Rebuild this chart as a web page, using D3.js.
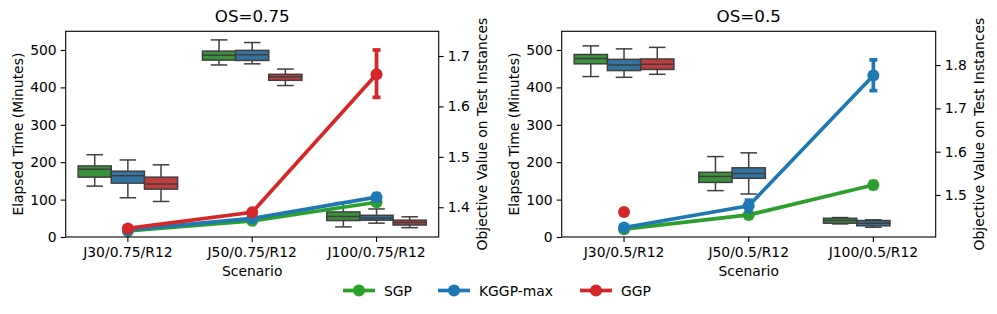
<!DOCTYPE html>
<html>
<head>
<meta charset="utf-8">
<script src="https://cdn.jsdelivr.net/npm/d3@7"></script>
<style>
  body { margin: 0; background: #fff; }
  svg { font-family: "DejaVu Sans", sans-serif; }
</style>
</head>
<body>
<svg width="997" height="314"></svg>
<script>
let svg = d3.select("svg");

let methods = ["SGP", "KGGP-max", "GGP"];
let lineColors = ["#2ca02c", "#1f77b4", "#d62728"];
let boxColors = ["#3a923a", "#3274a1", "#c03d3e"];

let scenariosA = ["J30/0.75/R12", "J50/0.75/R12", "J100/0.75/R12"];
let scenariosB = ["J30/0.5/R12", "J50/0.5/R12", "J100/0.5/R12"];

// elapsed time boxes: [scenario, method, whisker low, q1, median, q3, whisker high]
let timeA = [
    [0, 0, 136, 160, 181, 190, 220],
    [0, 1, 105, 144, 164, 176, 206],
    [0, 2, 95, 128, 142, 160, 193],
    [1, 0, 460, 473, 486, 497, 527],
    [1, 1, 463, 472, 487, 499, 520],
    [1, 2, 405, 419, 428, 435, 449],
    [2, 0, 27, 44, 55, 67, 92],
    [2, 1, 37, 45, 51, 58, 75],
    [2, 2, 25, 32, 39, 45, 54]
];
let timeB = [
    [0, 0, 429, 463, 477, 488, 511],
    [0, 1, 427, 445, 460, 475, 503],
    [0, 2, 435, 448, 462, 476, 507],
    [1, 0, 124, 146, 162, 173, 215],
    [1, 1, 115, 157, 170, 185, 225],
    [2, 0, 35, 37, 44, 50, 52],
    [2, 1, 26, 30, 37, 44, 46]
];

// objective value: [scenario, method, mean, ci low, ci high]
let objA = [
    [0, 0, 1.353, 1.350, 1.356],
    [1, 0, 1.373, 1.370, 1.376],
    [2, 0, 1.410, 1.404, 1.416],
    [0, 1, 1.355, 1.352, 1.358],
    [1, 1, 1.378, 1.375, 1.381],
    [2, 1, 1.420, 1.413, 1.427],
    [0, 2, 1.358, 1.355, 1.361],
    [1, 2, 1.390, 1.386, 1.394],
    [2, 2, 1.664, 1.618, 1.712]
];
let objB = [
    [0, 0, 1.421, 1.418, 1.424],
    [1, 0, 1.454, 1.450, 1.458],
    [2, 0, 1.523, 1.515, 1.531],
    [0, 1, 1.425, 1.421, 1.429],
    [1, 1, 1.475, 1.462, 1.488],
    [2, 1, 1.776, 1.741, 1.812],
    [0, 2, 1.461, 1.458, 1.464]
];

let panels = [
    {x0: 65.7, x1: 438.7, title: "OS=0.75", cats: scenariosA, boxes: timeA, obj: objA,
     objDomain: [1.341, 1.749], objTicks: [1.4, 1.5, 1.6, 1.7]},
    {x0: 561.7, x1: 935.7, title: "OS=0.5", cats: scenariosB, boxes: timeB, obj: objB,
     objDomain: [1.403, 1.878], objTicks: [1.5, 1.6, 1.7, 1.8]}
];

let plotTop = 31.3, plotBottom = 237;

panels.forEach(p => {
    let w = p.x1 - p.x0, h = plotBottom - plotTop;
    let g = svg.append("g").attr("transform", `translate(${p.x0},${plotTop})`);

    let x = d3.scaleBand().domain(d3.range(3)).range([0, w]);
    let y = d3.scaleLinear().domain([0, 550]).range([h, 0]);
    let y2 = d3.scaleLinear().domain(p.objDomain).range([h, 0]);
    let slot = x.bandwidth() * 0.8 / 3;
    let cx = i => x(i) + x.bandwidth() / 2;

    // boxes
    let bg = g.append("g");
    p.boxes.forEach(b => {
        let c = cx(b[0]) + (b[1] - 1) * slot;
        let bx = bg.append("g").attr("stroke", "#3f3f3f").attr("stroke-width", 1.5);
        bx.append("line").attr("x1", c).attr("x2", c).attr("y1", y(b[2])).attr("y2", y(b[3]));
        bx.append("line").attr("x1", c).attr("x2", c).attr("y1", y(b[5])).attr("y2", y(b[6]));
        bx.append("line").attr("x1", c - slot / 4).attr("x2", c + slot / 4).attr("y1", y(b[2])).attr("y2", y(b[2]));
        bx.append("line").attr("x1", c - slot / 4).attr("x2", c + slot / 4).attr("y1", y(b[6])).attr("y2", y(b[6]));
        bx.append("rect").attr("x", c - slot / 2).attr("width", slot)
            .attr("y", y(b[5])).attr("height", y(b[3]) - y(b[5]))
            .attr("fill", boxColors[b[1]]);
        bx.append("line").attr("x1", c - slot / 2).attr("x2", c + slot / 2).attr("y1", y(b[4])).attr("y2", y(b[4]));
    });

    // point plot on twin axis
    let pg = g.append("g");
    methods.forEach((m, mi) => {
        let pts = p.obj.filter(d => d[1] === mi);
        let line = d3.line().x(d => cx(d[0])).y(d => y2(d[2]));
        if (pts.length > 1) {
            pg.append("path").datum(pts).attr("d", line)
                .attr("fill", "none").attr("stroke", lineColors[mi]).attr("stroke-width", 3.7);
        }
        pts.forEach(d => {
            let e = pg.append("g").attr("stroke", lineColors[mi]).attr("stroke-width", 3.7);
            e.append("line").attr("x1", cx(d[0])).attr("x2", cx(d[0])).attr("y1", y2(d[3])).attr("y2", y2(d[4]));
            e.append("line").attr("x1", cx(d[0]) - 4).attr("x2", cx(d[0]) + 4).attr("y1", y2(d[3])).attr("y2", y2(d[3]));
            e.append("line").attr("x1", cx(d[0]) - 4).attr("x2", cx(d[0]) + 4).attr("y1", y2(d[4])).attr("y2", y2(d[4]));
            pg.append("circle").attr("cx", cx(d[0])).attr("cy", y2(d[2])).attr("r", 6)
                .attr("fill", lineColors[mi]);
        });
    });

    // axes
    let ax = g.append("g").attr("transform", `translate(0,${h})`)
        .call(d3.axisBottom(x).tickFormat(i => p.cats[i]).tickSize(5).tickPadding(5));
    let ayl = g.append("g").call(d3.axisLeft(y).tickValues([0, 100, 200, 300, 400, 500]).tickSize(5).tickPadding(4));
    let ayr = g.append("g").attr("transform", `translate(${w},0)`)
        .call(d3.axisRight(y2).tickValues(p.objTicks).tickFormat(d3.format(".1f")).tickSize(5).tickPadding(4));
    [ax, ayl, ayr].forEach(a => {
        a.attr("font-family", null).attr("font-size", 13.9);
        a.select(".domain").remove();
        a.selectAll(".tick line").attr("stroke", "#000").attr("stroke-width", 1.1);
        a.selectAll(".tick text").attr("fill", "#000");
    });

    g.append("rect").attr("width", w).attr("height", h)
        .attr("fill", "none").attr("stroke", "#000").attr("stroke-width", 1.1);

    g.append("text").attr("x", w / 2).attr("y", -9).attr("text-anchor", "middle")
        .attr("font-size", 16.7).text(p.title);
    g.append("text").attr("x", w / 2).attr("y", h + 39).attr("text-anchor", "middle")
        .attr("font-size", 13.9).text("Scenario");
    g.append("text").attr("transform", `translate(${-43},${h / 2}) rotate(-90)`)
        .attr("text-anchor", "middle").attr("font-size", 13.9).text("Elapsed Time (Minutes)");
    g.append("text").attr("transform", `translate(${w + 48},${h / 2}) rotate(-90)`)
        .attr("text-anchor", "middle").attr("font-size", 13.9).text("Objective Value on Test Instances");
});

// legend
let legendX = [343, 438, 580];
let lg = svg.append("g").attr("transform", "translate(0,290.5)");
methods.forEach((m, i) => {
    let it = lg.append("g").attr("transform", `translate(${legendX[i]},0)`);
    it.append("line").attr("x1", 0).attr("x2", 32).attr("stroke", lineColors[i]).attr("stroke-width", 3.7);
    it.append("circle").attr("cx", 16).attr("r", 6).attr("fill", lineColors[i]);
    it.append("text").attr("x", 41).attr("y", 5).attr("font-size", 13.9).text(m);
});
</script>
</body>
</html>
